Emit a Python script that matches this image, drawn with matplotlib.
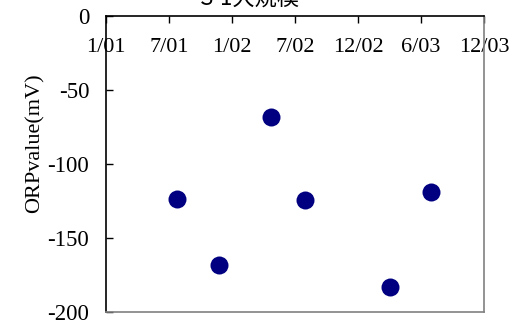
import matplotlib
matplotlib.use("Agg")
import matplotlib.pyplot as plt
import matplotlib.dates as mdates
import numpy as np
import datetime as dt

plt.rcParams['font.family'] = ['Liberation Serif', 'Noto Sans CJK JP']

title = "S-1大規模"
y_label = "ORPvalue(mV)"
tick_labels = ["1/01", "7/01", "1/02", "7/02", "12/02", "6/03", "12/03"]
sample_dates = ["2001-07-20", "2001-11-15", "2002-04-10", "2002-07-14", "2003-03-10", "2003-07-04"]
orp_values = [-123.5, -168, -68, -124.5, -183, -119]
y_ticks = [0, -50, -100, -150, -200]

start = dt.date(2001, 1, 1)
end = dt.date(2003, 12, 1)

fig = plt.figure(figsize=(5.17, 3.27), dpi=100)
W, H = 517, 327
ax = fig.add_axes([106 / W, (H - 312) / H, 378 / W, 296 / H])

ax.spines['bottom'].set_position(('data', 0))
ax.spines['top'].set_position(('axes', 0))

x = mdates.date2num([dt.date.fromisoformat(d) for d in sample_dates])
x0, x1 = mdates.date2num(start), mdates.date2num(end)
ax.scatter(x, orp_values, s=168, color='#000080', zorder=3, linewidths=0)

ax.set_xlim(x0, x1)
ax.set_ylim(-200, 0)
ax.set_xticks(np.linspace(x0, x1, len(tick_labels)))
ax.set_xticklabels(tick_labels)
ax.set_yticks(y_ticks)
ax.set_yticklabels([str(v) for v in y_ticks])

ax.spines['bottom'].set_color('black')
ax.spines['top'].set_color('#808080')
ax.spines['right'].set_color('#808080')
ax.spines['left'].set_color('black')
for s in ax.spines.values():
    s.set_linewidth(1.2)

ax.tick_params(axis='x', direction='out', length=5, width=1.0, pad=11, top=False, labelsize=16)
ax.tick_params(axis='y', direction='in', length=5, width=1.0, pad=12, right=False, labelsize=16.5)

ax.set_ylabel(y_label, fontsize=16, va='center')
ax.yaxis.set_label_coords((35 - 106) / 378, (312 - 143) / 296)

fig.text(250 / W, (H + 2) / H, title, ha='center', va='center', fontsize=16,
         family=['Noto Sans CJK JP', 'DejaVu Sans'])

fig.savefig("out.png", dpi=100)
